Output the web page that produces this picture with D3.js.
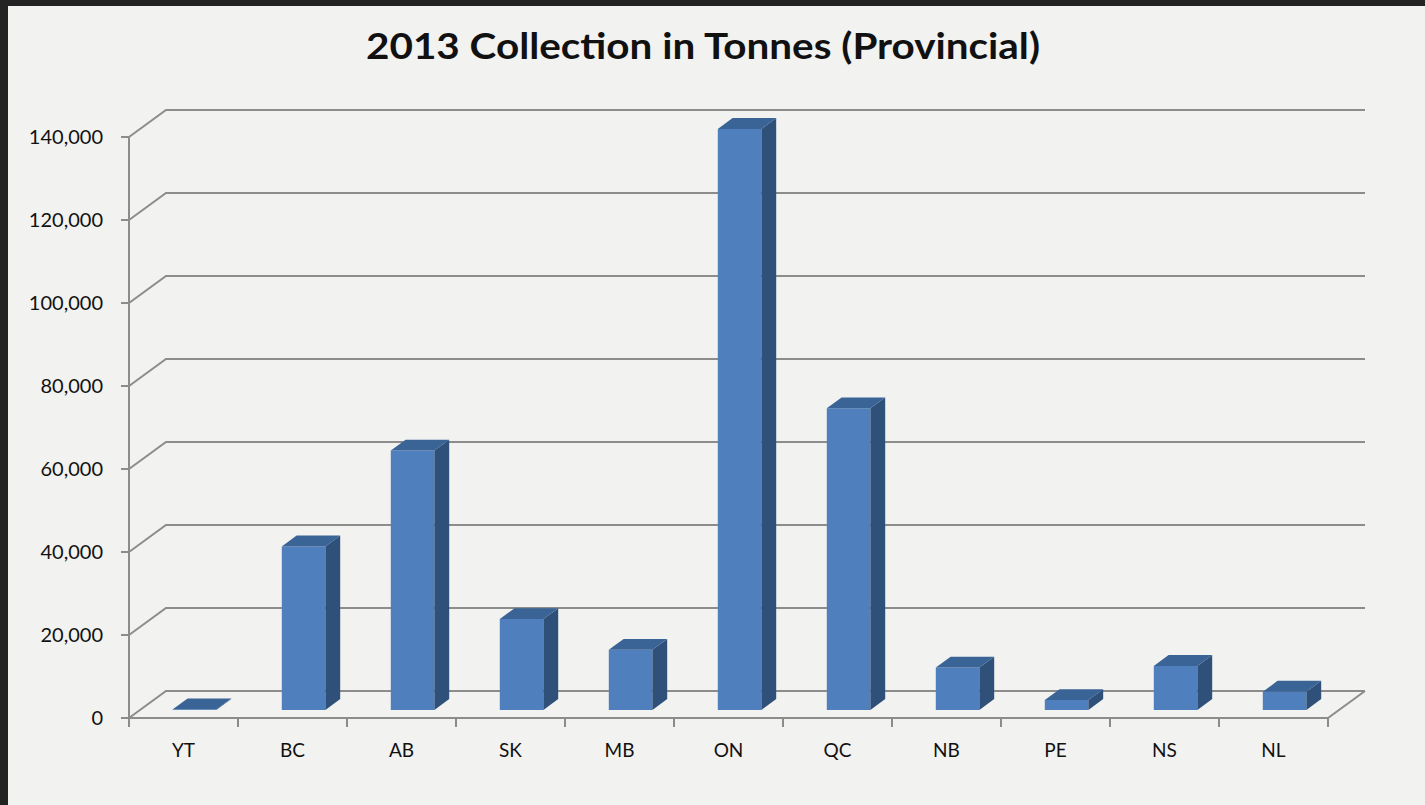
<!DOCTYPE html>
<html>

<head>
    <meta charset="utf-8">
    <title>2013 Collection in Tonnes (Provincial)</title>
    <script type="text/javascript" src="https://d3js.org/d3.v7.min.js"></script>

    <style>
        body {
            margin: 0;
            background: #232323;
        }

        svg {
            display: block;
        }

        text {
            font-family: Lato, "Open Sans", sans-serif;
            fill: #111;
        }
    </style>

</head>

<body>
</body>

<script type="text/javascript">
    //Data
    var provinces = ["YT", "BC", "AB", "SK", "MB", "ON", "QC", "NB", "PE", "NS", "NL"];
    var tonnes = [150, 39400, 62500, 21900, 14500, 140000, 72700, 10200, 2400, 10600, 4400];
    var yTicks = [0, 20000, 40000, 60000, 80000, 100000, 120000, 140000];
    var title = "2013 Collection in Tonnes (Provincial)";

    //Width and height
    var w = 1425;
    var h = 805;

    //Plot box (front plane) and depth offset
    var plotLeft = 129, plotRight = 1328, plotBase = 718, plotTop = 137;
    var depthX = 37, depthY = 27;

    var svg = d3.select("body")
        .append("svg")
        .attr("width", w)
        .attr("height", h);

    //Panel background
    svg.append("rect")
        .attr("x", 8)
        .attr("y", 6)
        .attr("width", w - 8)
        .attr("height", h - 6)
        .attr("fill", "#f2f2f0");

    var x = d3.scaleBand()
        .domain(provinces)
        .range([plotLeft, plotRight]);

    var y = d3.scaleLinear()
        .domain([0, 140000])
        .range([plotBase, plotTop]);

    //Project a point at depth d (0 = front, 1 = back wall)
    function px(xv, d) { return xv + depthX * d; }
    function py(yv, d) { return yv - depthY * d; }

    var lineColor = "#8c8c8c";

    //Gridlines on the side and back walls
    svg.selectAll("path.grid")
        .data(yTicks)
        .enter()
        .append("path")
        .attr("class", "grid")
        .attr("fill", "none")
        .attr("stroke", lineColor)
        .attr("stroke-width", 2)
        .attr("d", function(d) {
            return "M" + plotLeft + "," + y(d) +
                "L" + px(plotLeft, 1) + "," + py(y(d), 1) +
                "L" + px(plotRight, 1) + "," + py(y(d), 1);
        });

    //Floor front edge and right edge
    svg.append("path")
        .attr("fill", "none")
        .attr("stroke", lineColor)
        .attr("stroke-width", 2)
        .attr("d", "M" + plotLeft + "," + plotBase + "L" + plotRight + "," + plotBase +
            "L" + px(plotRight, 1) + "," + py(plotBase, 1));

    //Vertical axis
    svg.append("line")
        .attr("x1", plotLeft).attr("x2", plotLeft)
        .attr("y1", plotTop).attr("y2", plotBase + 9)
        .attr("stroke", lineColor)
        .attr("stroke-width", 2);

    //Y ticks and labels
    svg.selectAll("line.ytick")
        .data(yTicks)
        .enter()
        .append("line")
        .attr("class", "ytick")
        .attr("x1", plotLeft - 8).attr("x2", plotLeft)
        .attr("y1", function(d) { return y(d); })
        .attr("y2", function(d) { return y(d); })
        .attr("stroke", lineColor)
        .attr("stroke-width", 2);

    svg.selectAll("text.ylab")
        .data(yTicks)
        .enter()
        .append("text")
        .attr("class", "ylab")
        .attr("x", 103)
        .attr("y", function(d) { return y(d); })
        .attr("dy", "0.36em")
        .attr("text-anchor", "end")
        .style("font-size", "20px")
        .text(function(d) { return d3.format(",")(d); });

    //Category ticks and labels
    var bounds = provinces.map(function(p) { return x(p); }).concat([plotRight]);
    svg.selectAll("line.xtick")
        .data(bounds)
        .enter()
        .append("line")
        .attr("class", "xtick")
        .attr("x1", function(d) { return d; })
        .attr("x2", function(d) { return d; })
        .attr("y1", plotBase)
        .attr("y2", plotBase + 9)
        .attr("stroke", lineColor)
        .attr("stroke-width", 2);

    svg.selectAll("text.xlab")
        .data(provinces)
        .enter()
        .append("text")
        .attr("class", "xlab")
        .attr("x", function(d) { return x(d) + x.bandwidth() / 2; })
        .attr("y", 757)
        .attr("text-anchor", "middle")
        .style("font-size", "19px")
        .text(function(d) { return d; });

    //3D bars
    var barW = x.bandwidth() * 0.4;
    var d0 = 0.3, d1 = 0.7;
    var bars = svg.selectAll("g.bar")
        .data(provinces.map(function(p, i) { return { name: p, value: tonnes[i] }; }))
        .enter()
        .append("g")
        .attr("class", "bar");

    function barPts(d) {
        var x0 = x(d.name) + (x.bandwidth() - barW) / 2;
        var x1 = x0 + barW;
        return { x0: x0, x1: x1, yb: y(0), yt: y(d.value) };
    }

    //front face
    bars.append("path")
        .attr("fill", "#4f7fbc")
        .attr("d", function(d) {
            var b = barPts(d);
            return "M" + px(b.x0, d0) + "," + py(b.yb, d0) +
                "L" + px(b.x1, d0) + "," + py(b.yb, d0) +
                "L" + px(b.x1, d0) + "," + py(b.yt, d0) +
                "L" + px(b.x0, d0) + "," + py(b.yt, d0) + "Z";
        });

    //side face
    bars.append("path")
        .attr("fill", "#2f5079")
        .attr("d", function(d) {
            var b = barPts(d);
            return "M" + px(b.x1, d0) + "," + py(b.yb, d0) +
                "L" + px(b.x1, d1) + "," + py(b.yb, d1) +
                "L" + px(b.x1, d1) + "," + py(b.yt, d1) +
                "L" + px(b.x1, d0) + "," + py(b.yt, d0) + "Z";
        });

    //top face
    bars.append("path")
        .attr("fill", "#3a6396")
        .attr("d", function(d) {
            var b = barPts(d);
            return "M" + px(b.x0, d0) + "," + py(b.yt, d0) +
                "L" + px(b.x1, d0) + "," + py(b.yt, d0) +
                "L" + px(b.x1, d1) + "," + py(b.yt, d1) +
                "L" + px(b.x0, d1) + "," + py(b.yt, d1) + "Z";
        });

    //Title
    svg.append("text")
        .attr("x", 366)
        .attr("y", 59)
        .attr("textLength", 674)
        .attr("lengthAdjust", "spacingAndGlyphs")
        .style("font-size", "36px")
        .style("font-weight", "bold")
        .text(title);
</script>

</html>
